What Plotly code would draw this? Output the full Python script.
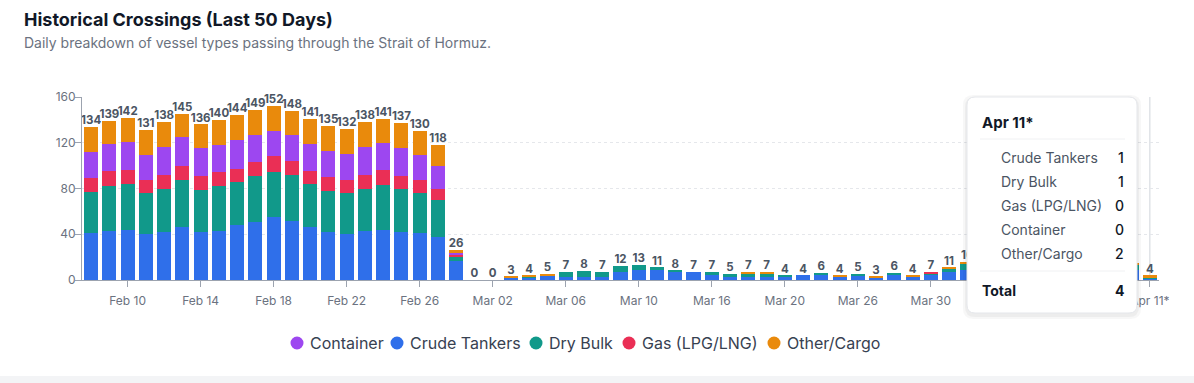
import plotly.graph_objects as go

# ---------------- DATA ----------------
categories = [
    "Feb 08", "Feb 09", "Feb 10", "Feb 11", "Feb 12", "Feb 13", "Feb 14", "Feb 15", "Feb 16", "Feb 17",
    "Feb 18", "Feb 19", "Feb 20", "Feb 21", "Feb 22", "Feb 23", "Feb 24", "Feb 25", "Feb 26", "Feb 27",
    "Feb 28", "Mar 01", "Mar 02", "Mar 03", "Mar 04", "Mar 05", "Mar 06", "Mar 07", "Mar 08", "Mar 09",
    "Mar 10", "Mar 11", "Mar 12", "Mar 13", "Mar 16", "Mar 17", "Mar 18", "Mar 19", "Mar 20", "Mar 21",
    "Mar 22", "Mar 23", "Mar 26", "Mar 27", "Mar 28", "Mar 29", "Mar 30", "Mar 31", "Apr 01", "Apr 02",
    "Apr 03", "Apr 04", "Apr 05", "Apr 06", "Apr 07", "Apr 08", "Apr 09", "Apr 10", "Apr 11*",
]

crude_tankers = [41, 43, 44, 40, 42, 46, 42, 43, 48, 51, 55, 52, 46, 42, 40, 43, 44, 42, 41, 38,
                 17, 0, 0, 2, 2, 4, 3, 3, 3, 7, 9, 9, 7, 7, 4, 3, 3, 3, 3, 4,
                 4, 3, 4, 2, 4, 3, 4, 7, 9, 8, 10, 9, 7, 9, 11, 9, 8, 9, 1]
dry_bulk = [36, 39, 40, 36, 38, 41, 37, 39, 38, 40, 39, 40, 38, 36, 36, 37, 39, 38, 35, 32,
            3, 0, 0, 0, 1, 0, 4, 5, 4, 5, 4, 2, 1, 0, 3, 2, 3, 3, 1, 0,
            2, 0, 1, 0, 2, 0, 2, 3, 5, 4, 5, 4, 3, 5, 6, 5, 5, 4, 1]
gas_lpg_lng = [12, 13, 12, 11, 12, 13, 12, 12, 11, 12, 14, 12, 11, 12, 11, 12, 13, 11, 11, 10,
               2, 0, 0, 0, 0, 0, 0, 0, 0, 0, 0, 0, 0, 0, 0, 0, 0, 0, 0, 0,
               0, 0, 0, 0, 0, 0, 1, 0, 0, 1, 0, 0, 1, 0, 0, 1, 0, 0, 0]
container = [23, 24, 25, 22, 24, 25, 24, 24, 25, 24, 22, 23, 24, 23, 23, 24, 24, 24, 22, 20,
             2, 0, 0, 0, 0, 0, 0, 0, 0, 0, 0, 0, 0, 0, 0, 0, 0, 0, 0, 0,
             0, 0, 0, 0, 0, 0, 0, 0, 0, 0, 0, 0, 0, 0, 0, 0, 0, 0, 0]
other_cargo = [22, 20, 21, 22, 22, 20, 21, 22, 22, 22, 22, 21, 22, 22, 22, 22, 21, 22, 21, 18,
               2, 0, 0, 1, 1, 1, 0, 0, 0, 0, 0, 0, 0, 0, 0, 0, 1, 1, 0, 0,
               0, 1, 0, 1, 0, 1, 0, 1, 2, 1, 2, 1, 1, 2, 1, 2, 1, 2, 2]

series_names = ["Crude Tankers", "Dry Bulk", "Gas (LPG/LNG)", "Container", "Other/Cargo"]
series_values = [crude_tankers, dry_bulk, gas_lpg_lng, container, other_cargo]
series_colors = ["#2f6fea", "#11998a", "#ea2f55", "#9d47f0", "#e98a0c"]
legend_order = ["Container", "Crude Tankers", "Dry Bulk", "Gas (LPG/LNG)", "Other/Cargo"]

y_ticks = [0, 40, 80, 120, 160]
x_tick_labels = categories[2::4]

title_text = "Historical Crossings (Last 50 Days)"
subtitle_text = "Daily breakdown of vessel types passing through the Strait of Hormuz."

totals = [sum(v) for v in zip(*series_values)]

# ---------------- LAYOUT HELPERS ----------------
W, H = 1194, 383
L, R, T, B = 82, 35, 97, 103
PW, PH = W - L - R, H - T - B
N = len(categories)


def px2x(px):
    return (px - L) / PW


def px2y(py):
    return (H - B - py) / PH


def cat_px(i):
    return L + (i + 0.5) * PW / N


FONT = "Inter, Roboto, sans-serif"

# tooltip card geometry (pixels)
bx0, by0, bx1, by1 = 967, 97, 1137, 313


def under_card(i):
    return bx0 + 4 < cat_px(i) < bx1


fig = go.Figure()

for name, vals, col in zip(series_names, series_values, series_colors):
    fig.add_trace(go.Bar(
        x=categories, y=vals, name=name, marker=dict(color=col, line=dict(width=0)),
        showlegend=False, hoverinfo="skip",
    ))

# totals above bars (labels hidden beneath the tooltip card are not shown)
label_text = [("" if under_card(i) else str(t)) for i, t in enumerate(totals)]
fig.add_trace(go.Scatter(
    x=categories, y=totals, mode="text", text=label_text,
    textposition="top center",
    textfont=dict(family=FONT, size=11.5, color="#4b5563", weight=700),
    showlegend=False, hoverinfo="skip", cliponaxis=False,
))

tick_text = [("" if under_card(categories.index(c)) else c) for c in x_tick_labels]

shapes = []
annotations = []

# hover cursor line at last category
shapes.append(dict(type="line", xref="x", yref="y", x0=N - 1, x1=N - 1,
                   y0=0, y1=160, line=dict(color="#d1d5db", width=1), layer="below"))


def rounded_rect(x0, y0, x1, y1, r):
    def P(px, py):
        return f"{px2x(px):.5f},{px2y(py):.5f}"
    return (f"M {P(x0 + r, y0)} L {P(x1 - r, y0)} Q {P(x1, y0)} {P(x1, y0 + r)} "
            f"L {P(x1, y1 - r)} Q {P(x1, y1)} {P(x1 - r, y1)} L {P(x0 + r, y1)} "
            f"Q {P(x0, y1)} {P(x0, y1 - r)} L {P(x0, y0 + r)} Q {P(x0, y0)} {P(x0 + r, y0)} Z")


for i, a in enumerate([0.03, 0.04]):
    d = 4 - i * 2
    shapes.append(dict(type="path", xref="paper", yref="paper",
                       path=rounded_rect(bx0 - d, by0 - d + 2, bx1 + d, by1 + d + 2, 10),
                       fillcolor=f"rgba(0,0,0,{a})", line=dict(width=0), layer="above"))
shapes.append(dict(type="path", xref="paper", yref="paper", path=rounded_rect(bx0, by0, bx1, by1, 8),
                   fillcolor="white", line=dict(color="#e5e7eb", width=1), layer="above"))
for sy in (139, 271):
    shapes.append(dict(type="line", xref="paper", yref="paper", x0=px2x(980), x1=px2x(1125),
                       y0=px2y(sy), y1=px2y(sy), line=dict(color="#f0f1f3", width=1), layer="above"))

last = N - 1
annotations.append(dict(xref="paper", yref="paper", x=px2x(980), y=px2y(122), xanchor="left",
                        yanchor="middle", showarrow=False, text=categories[last],
                        font=dict(family=FONT, size=15, color="#111827", weight=700)))
for i, (name, vals) in enumerate(zip(series_names, series_values)):
    yy = px2y(157 + 24 * i)
    annotations.append(dict(xref="paper", yref="paper", x=px2x(999), y=yy, xanchor="left",
                            yanchor="middle", showarrow=False, text=name,
                            font=dict(family=FONT, size=14, color="#4b5563")))
    annotations.append(dict(xref="paper", yref="paper", x=px2x(1126), y=yy, xanchor="right",
                            yanchor="middle", showarrow=False, text=str(vals[last]),
                            font=dict(family=FONT, size=14, color="#111827", weight=500)))
annotations.append(dict(xref="paper", yref="paper", x=px2x(980), y=px2y(290), xanchor="left",
                        yanchor="middle", showarrow=False, text="Total",
                        font=dict(family=FONT, size=14, color="#111827", weight=700)))
annotations.append(dict(xref="paper", yref="paper", x=px2x(1126), y=px2y(290), xanchor="right",
                        yanchor="middle", showarrow=False, text=str(totals[last]),
                        font=dict(family=FONT, size=14, color="#111827", weight=700)))

# title and subtitle
annotations.append(dict(xref="paper", yref="paper", x=px2x(22), y=px2y(19), xanchor="left",
                        yanchor="middle", showarrow=False, text=title_text,
                        font=dict(family=FONT, size=18, color="#111827", weight=700)))
annotations.append(dict(xref="paper", yref="paper", x=px2x(22), y=px2y(43), xanchor="left",
                        yanchor="middle", showarrow=False, text=subtitle_text,
                        font=dict(family=FONT, size=14, color="#6b7280")))

# legend (circle swatches + labels)
legend_centers_px = [297, 397, 536, 629, 774]
legend_y_px = 343
rad = 6.5
for name, cx in zip(legend_order, legend_centers_px):
    col = series_colors[series_names.index(name)]
    shapes.append(dict(type="circle", xref="paper", yref="paper",
                       x0=px2x(cx - rad), x1=px2x(cx + rad),
                       y0=px2y(legend_y_px + rad), y1=px2y(legend_y_px - rad),
                       fillcolor=col, line=dict(width=0)))
    annotations.append(dict(xref="paper", yref="paper", x=px2x(cx + 11), y=px2y(legend_y_px),
                            xanchor="left", yanchor="middle", showarrow=False, text=name,
                            font=dict(family=FONT, size=16, color="#374151")))

# bottom page strip
shapes.append(dict(type="rect", xref="paper", yref="paper", x0=px2x(0), x1=px2x(W),
                   y0=px2y(H + 2), y1=px2y(376), fillcolor="#f3f4f6", line=dict(width=0), layer="below"))

fig.update_layout(
    width=W, height=H, margin=dict(l=L, r=R, t=T, b=B, autoexpand=False),
    barmode="stack", bargap=0.23,
    paper_bgcolor="white", plot_bgcolor="white",
    font=dict(family=FONT, color="#6b7280", size=12),
    shapes=shapes, annotations=annotations,
    showlegend=False,
    xaxis=dict(type="category", categoryorder="array", categoryarray=categories,
               range=[-0.5, N - 0.5],
               tickmode="array", tickvals=x_tick_labels, ticktext=tick_text,
               ticks="outside", ticklen=6, tickcolor="#9ca3af", ticklabelstandoff=4,
               showline=True, linecolor="#9ca3af", linewidth=1, showgrid=False,
               tickfont=dict(family=FONT, size=12, color="#6b7280")),
    yaxis=dict(range=[0, 160], tickmode="array", tickvals=y_ticks,
               ticks="outside", ticklen=6, tickcolor="#9ca3af", ticklabelstandoff=-3,
               showline=True, linecolor="#9ca3af", linewidth=1,
               showgrid=True, gridcolor="#e5e7eb", griddash="dot", zeroline=False,
               tickfont=dict(family=FONT, size=12, color="#6b7280")),
)

fig.write_html("out.html", config={"displayModeBar": False},
               post_script="document.body.style.margin='0';")
